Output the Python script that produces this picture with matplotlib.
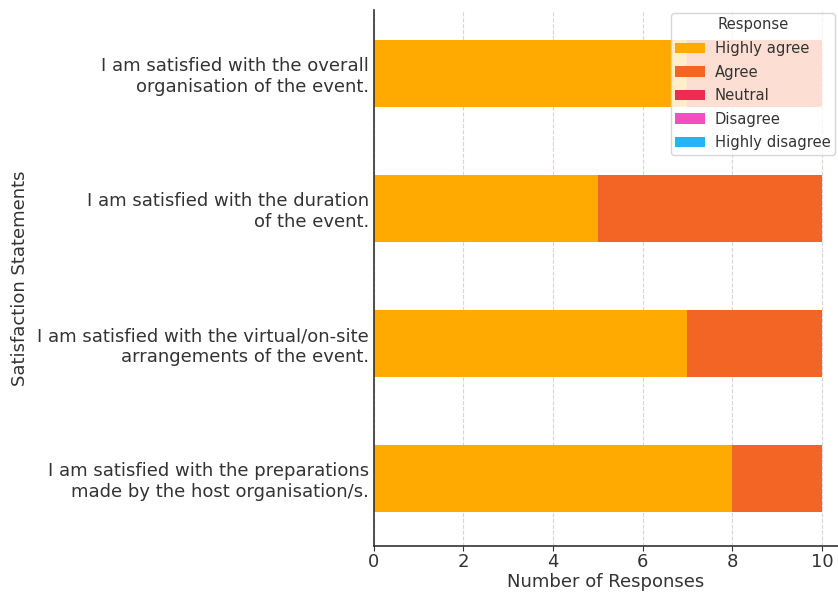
import pandas as pd
import matplotlib.pyplot as plt

# Aussagen (von unten nach oben)
statements = [
    "I am satisfied with the preparations\nmade by the host organisation/s.",
    "I am satisfied with the virtual/on-site\narrangements of the event.",
    "I am satisfied with the duration\nof the event.",
    "I am satisfied with the overall\norganisation of the event.",
]
responses = ["Highly agree", "Agree", "Neutral", "Disagree", "Highly disagree"]
highly_agree = [8, 7, 5, 7]
agree = [2, 3, 5, 3]
neutral = [0, 0, 0, 0]
disagree = [0, 0, 0, 0]
highly_disagree = [0, 0, 0, 0]
colors = ["#FFAA00", "#F26525", "#EE2B50", "#F24FC0", "#20B6F0"]

df = pd.DataFrame(
    {
        "Highly agree": highly_agree,
        "Agree": agree,
        "Neutral": neutral,
        "Disagree": disagree,
        "Highly disagree": highly_disagree,
    },
    index=statements,
)

fig = plt.figure(figsize=(8.38, 5.92), dpi=100)
ax = fig.add_axes([0.446, 0.078, 0.554, 0.905])
df[responses].plot(kind="barh", stacked=True, color=colors, ax=ax, width=0.5)

ax.set_xlim(0, 10.36)
ax.set_ylim(-0.5, 3.47)
ax.set_xticks([0, 2, 4, 6, 8, 10])
ax.tick_params(axis="both", labelsize=13, colors="#333333")
ax.tick_params(axis="x", pad=2)
ax.tick_params(axis="y", length=0)
ax.set_xlabel("Number of Responses", fontsize=13, color="#333333", labelpad=1)
ax.set_ylabel("Satisfaction Statements", fontsize=13, color="#333333")
ax.yaxis.set_label_coords(-0.743, 0.5)
ax.xaxis.grid(True, linestyle="--", color="#cccccc", alpha=0.8)
ax.set_axisbelow(True)
for side in ["top", "right"]:
    ax.spines[side].set_visible(False)
for side in ["left", "bottom"]:
    ax.spines[side].set_color("#333333")
    ax.spines[side].set_linewidth(1.2)

leg = ax.legend(title="Response", loc="upper right", fontsize=10.6,
                title_fontsize=10.6, bbox_to_anchor=(1.0, 1.0),
                borderpad=0.3, borderaxespad=0.2, handletextpad=0.7,
                labelspacing=0.58)
for t in leg.get_texts():
    t.set_color("#333333")
leg.get_title().set_color("#333333")

plt.savefig("out.png", dpi=100)
plt.close()
